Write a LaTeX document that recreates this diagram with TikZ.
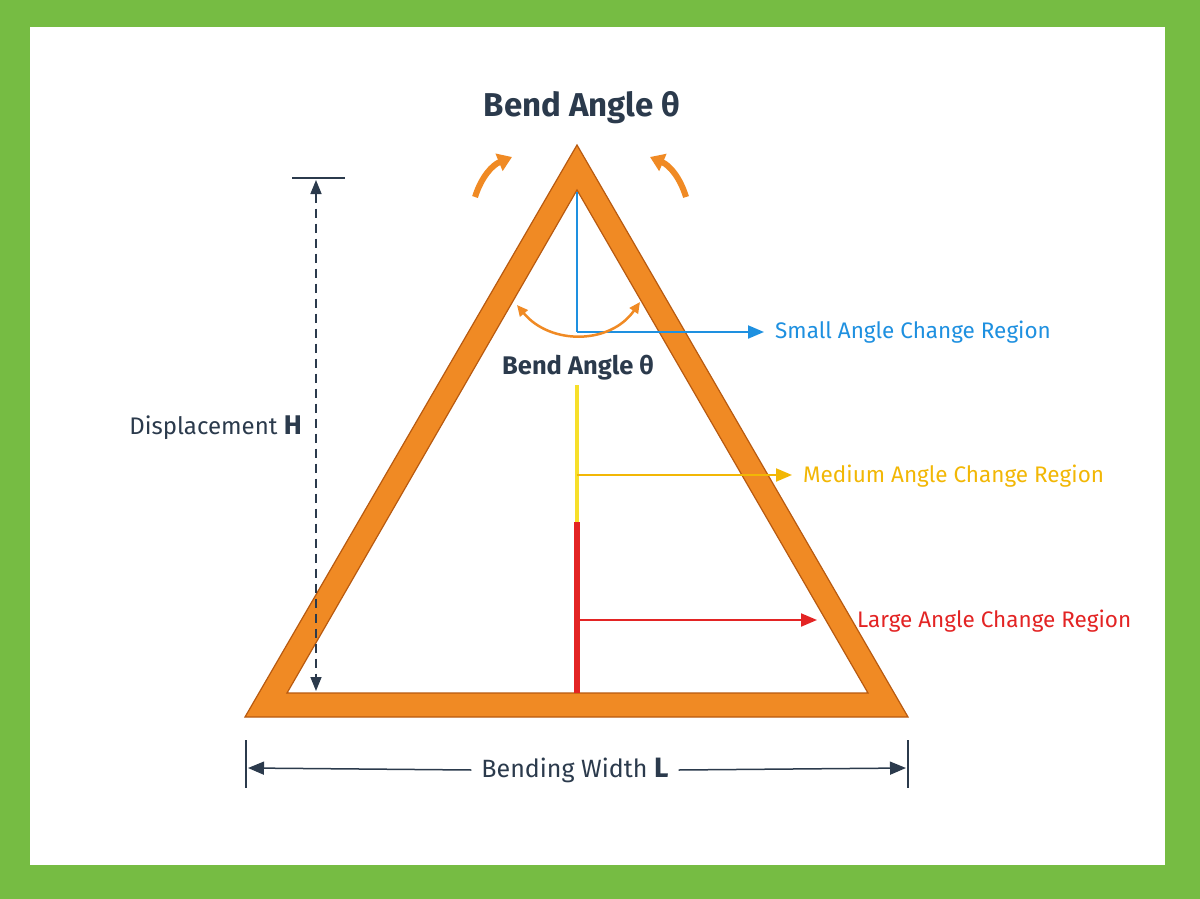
\documentclass[tikz,border=0pt]{standalone}
\usepackage{fontspec}
\setmainfont{Fira Sans}
\usetikzlibrary{arrows.meta,positioning}
\definecolor{frame}{HTML}{76BC43}
\definecolor{navy}{HTML}{2B3A4C}
\definecolor{bendor}{HTML}{F08A24}
\definecolor{bendedge}{HTML}{B85A10}
\definecolor{smallc}{HTML}{1E90E0}
\definecolor{medc}{HTML}{F2B705}
\definecolor{medl}{HTML}{F7DF2A}
\definecolor{largec}{HTML}{E32424}
\tikzset{
  lbl/.style={font=\fontsize{22.5}{26}\selectfont,inner sep=0pt},
  dim/.style={navy,line width=1.5pt},
  tip/.style={-{Triangle[length=16pt,width=13pt]}},
}
\begin{document}
\begin{tikzpicture}[x=1pt,y=-1pt]
        \fill[frame] (0,0) rectangle (1200,899);
        \fill[white] (30,27) rectangle (1165,865);

        % triangle band
        \fill[bendor,draw=bendedge,line width=1.2pt,even odd rule]
          (577,145) -- (908,717) -- (245,717) -- cycle
          (577,190) -- (868,693) -- (287,693) -- cycle;

        \node[font=\fontsize{33}{36}\selectfont\bfseries,text=navy] (title) at (582,108) {Bend Angle θ};
        \draw[bendor,line width=6pt,-{Triangle[length=14pt,width=18pt]}] (475,197) to[bend left=25] (512,157);
        \draw[bendor,line width=6pt,-{Triangle[length=14pt,width=18pt]}] (686,197) to[bend right=25] (650,157);

        % regions
        \coordinate (top) at (577,192);
        \coordinate (sc) at (577,332);
        \coordinate (mtop) at (577,385);
        \coordinate (mc) at (577,475);
        \coordinate (mbot) at (577,522);
        \coordinate (lc) at (580,620);
        \coordinate (bot) at (577,693);
        \node[lbl,anchor=west,text=smallc] (small) at (775,332) {Small Angle Change Region};
        \node[lbl,anchor=west,text=medc] (medium) at (803,476) {Medium Angle Change Region};
        \node[lbl,anchor=west,text=largec] (large) at (857,621) {Large Angle Change Region};
        \draw[smallc,line width=2pt] (top) -- (sc);
        \draw[smallc,line width=2pt,tip] (sc) -- (764,332);
        \draw[medl,line width=4pt] (mtop) -- (mbot);
        \draw[medc,line width=2pt,tip] (mc) -- (792,475);
        \draw[largec,line width=6pt] (mbot) -- (bot);
        \draw[largec,line width=2pt,tip] (lc) -- (817,620);

        \draw[bendor,line width=2.5pt,{Triangle[length=11pt,width=10pt]}-{Triangle[length=11pt,width=10pt]}] (517,305) .. controls (550,345) and (610,345) .. (640,302);
        \node[lbl,font=\fontsize{25.5}{28}\selectfont\bfseries,text=navy] (inner) at (578,368) {Bend Angle θ};

        % displacement
        \coordinate (htop) at (316,180);
        \coordinate (hbot) at (316,691);
        \draw[dim] (292,178) -- (345,178);
        \draw[dim,dashed,dash pattern=on 9pt off 6pt,{Triangle[length=14pt,width=11pt]}-{Triangle[length=14pt,width=11pt]}] (htop) -- (hbot);
        \node[lbl,font=\fontsize{24}{28}\selectfont,anchor=east,text=navy] (disp) at (302,428) {Displacement \textbf{\fontsize{27}{30}\selectfont H}};

        % width
        \node[lbl,font=\fontsize{25}{28}\selectfont,text=navy] (width) at (575,770) {Bending Width \textbf{\fontsize{28}{30}\selectfont L}};
        \draw[dim] (246,740) -- (246,788);
        \draw[dim] (908,740) -- (908,788);
        \draw[dim,tip] (width.west) ++(-10,0) -- (248,768);
        \draw[dim,tip] (width.east) ++(10,0) -- (906,768);
    \end{tikzpicture}
\end{document}
